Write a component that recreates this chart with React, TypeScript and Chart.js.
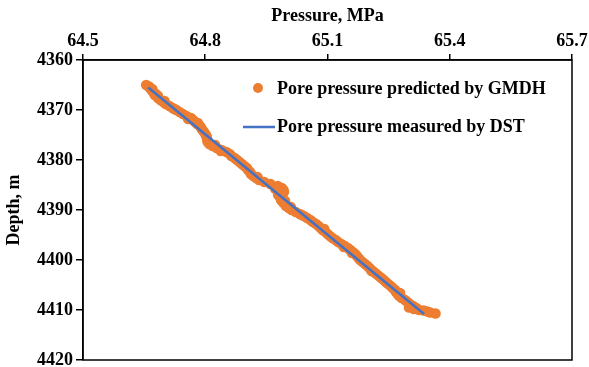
import React, { useEffect, useRef } from "react";
import { Chart, registerables } from "chart.js";

Chart.register(...registerables);

// Pore pressure predicted by the GMDH model (MPa) and matching depths (m)
const gmdhDepth = [
  4365.0, 4365.3, 4365.6, 4366.0, 4366.4, 4366.8, 4367.2, 4367.6, 4368.0, 4368.4,
  4368.8, 4369.2, 4369.6, 4370.0, 4370.4, 4370.8, 4371.2, 4371.6, 4372.0, 4372.4,
  4372.8, 4373.2, 4373.6, 4374.0, 4374.4, 4374.8, 4375.2, 4375.6, 4376.0, 4376.4,
  4376.8, 4377.2, 4377.6, 4378.0, 4378.4, 4378.8, 4379.2, 4379.6, 4380.0, 4380.4,
  4380.8, 4381.2, 4381.6, 4382.0, 4382.4, 4382.8, 4383.2, 4383.6, 4384.0, 4384.4,
  4384.8, 4385.2, 4385.6, 4386.0, 4386.4, 4386.8, 4387.2, 4387.6, 4388.0, 4388.4,
  4388.8, 4389.2, 4389.6, 4390.0, 4390.4, 4390.8, 4391.2, 4391.6, 4392.0, 4392.4,
  4392.8, 4393.2, 4393.6, 4394.0, 4394.4, 4394.8, 4395.2, 4395.6, 4396.0, 4396.4,
  4396.8, 4397.2, 4397.6, 4398.0, 4398.4, 4398.8, 4399.2, 4399.6, 4400.0, 4400.4,
  4400.8, 4401.2, 4401.6, 4402.0, 4402.4, 4402.8, 4403.2, 4403.6, 4404.0, 4404.4,
  4404.8, 4405.2, 4405.6, 4406.0, 4406.4, 4406.8, 4407.2, 4407.6, 4408.0, 4408.4,
  4408.8, 4409.2, 4409.5, 4409.6, 4409.8, 4410.0, 4410.1, 4410.3, 4410.5, 4410.7,
  4365.8, 4367.0, 4368.2, 4369.8, 4371.8, 4372.6, 4377.0, 4378.2, 4383.4, 4385.8,
  4386.2, 4387.0, 4388.2, 4389.4, 4391.0, 4393.8, 4397.4, 4398.6, 4402.2, 4406.6,
];
const gmdhPressure = [
  64.655, 64.662, 64.664, 64.668, 64.672, 64.679, 64.684, 64.684, 64.690, 64.697,
  64.703, 64.712, 64.720, 64.729, 64.737, 64.745, 64.754, 64.765, 64.770, 64.775,
  64.780, 64.787, 64.790, 64.793, 64.797, 64.800, 64.803, 64.804, 64.805, 64.806,
  64.810, 64.818, 64.828, 64.840, 64.852, 64.860, 64.864, 64.872, 64.878, 64.884,
  64.890, 64.896, 64.902, 64.905, 64.910, 64.912, 64.918, 64.925, 64.932, 64.945,
  64.960, 64.978, 64.988, 64.992, 64.993, 64.990, 64.988, 64.985, 64.986, 64.990,
  64.995, 64.998, 65.005, 65.012, 65.022, 65.032, 65.042, 65.050, 65.058, 65.064,
  65.072, 65.078, 65.083, 65.088, 65.095, 65.100, 65.106, 65.112, 65.120, 65.126,
  65.134, 65.142, 65.150, 65.156, 65.162, 65.168, 65.172, 65.176, 65.180, 65.186,
  65.192, 65.198, 65.203, 65.208, 65.214, 65.220, 65.226, 65.232, 65.238, 65.243,
  65.249, 65.255, 65.260, 65.266, 65.268, 65.272, 65.276, 65.282, 65.290, 65.296,
  65.302, 65.310, 65.300, 65.318, 65.312, 65.325, 65.336, 65.345, 65.352, 65.365,
  64.670, 64.676, 64.700, 64.724, 64.758, 64.782, 64.824, 64.838, 64.928, 64.972,
  64.980, 64.979, 64.996, 65.010, 65.037, 65.092, 65.140, 65.160, 65.208, 65.278,
];

// Pore pressure measured by DST: end points of the straight trend
const dstDepth = [4365.5, 4410.8];
const dstPressure = [64.66, 65.337];

// Axis ticks
const pressureTicks = [64.5, 64.8, 65.1, 65.4, 65.7];
const depthTicks = [4360, 4370, 4380, 4390, 4400, 4410, 4420];

const ORANGE = "#ED7D31";
const BLUE = "#4472C4";
const FONT = "'Liberation Serif', 'Times New Roman', serif";
const FONT_SIZE = 18;

const frameAndLegend = {
  id: "frameAndLegend",
  afterDatasetsDraw(chart: any) {
    const { ctx, chartArea } = chart;
    ctx.save();
    ctx.strokeStyle = "#000";
    ctx.lineWidth = 1.5;
    ctx.strokeRect(chartArea.left, chartArea.top, chartArea.right - chartArea.left, chartArea.bottom - chartArea.top);

    const ds = chart.data.datasets;
    ctx.font = `bold ${FONT_SIZE}px ${FONT}`;
    ctx.textBaseline = "middle";
    // scatter entry
    ctx.beginPath();
    ctx.fillStyle = ORANGE;
    ctx.arc(258, 88, 5, 0, Math.PI * 2);
    ctx.fill();
    ctx.fillStyle = "#000";
    ctx.fillText(ds[1].label, 277, 89);
    // line entry
    ctx.beginPath();
    ctx.strokeStyle = BLUE;
    ctx.lineWidth = 2.5;
    ctx.moveTo(243, 127);
    ctx.lineTo(275, 127);
    ctx.stroke();
    ctx.fillText(ds[0].label, 277, 127);
    ctx.restore();
  },
};

export default function App() {
  const ref = useRef<HTMLCanvasElement | null>(null);

  useEffect(() => {
    document.body.style.margin = "0";
    const canvas = ref.current;
    if (!canvas) return;
    const chart = new Chart(canvas, {
      type: "scatter",
      data: {
        datasets: [
          {
            type: "line",
            label: "Pore pressure measured by DST",
            data: dstPressure.map((p, i) => ({ x: p, y: dstDepth[i] })),
            borderColor: BLUE,
            borderWidth: 2.5,
            pointRadius: 0,
            showLine: true,
            fill: false,
            order: 0,
          },
          {
            label: "Pore pressure predicted by GMDH",
            data: gmdhPressure.map((p, i) => ({ x: p, y: gmdhDepth[i] })),
            backgroundColor: ORANGE,
            borderColor: ORANGE,
            borderWidth: 0,
            pointRadius: 5.3,
            order: 1,
          },
        ],
      },
      options: {
        animation: false,
        responsive: false,
        layout: { padding: { left: 0, right: 17, top: 0, bottom: 7 } },
        plugins: { legend: { display: false }, tooltip: { enabled: false } },
        scales: {
          x: {
            type: "linear",
            position: "top",
            min: 64.5,
            max: 65.7,
            afterBuildTicks: (s: any) => {
              s.ticks = pressureTicks.map((v) => ({ value: v }));
            },
            afterFit: (s: any) => {
              s.height = 60;
              s.paddingLeft = 0;
              s.paddingRight = 0;
            },
            ticks: {
              callback: (v: any) => Number(v).toFixed(1),
              color: "#000",
              font: { family: FONT, size: FONT_SIZE, weight: "bold" },
              padding: 2,
              maxRotation: 0,
            },
            grid: { drawOnChartArea: false, drawTicks: true, tickLength: 6, color: "#000", lineWidth: 1.5 },
            border: { color: "#000", width: 1.5 },
            title: {
              display: true,
              text: "Pressure, MPa",
              color: "#000",
              font: { family: FONT, size: FONT_SIZE, weight: "bold" },
              padding: { top: 6, bottom: 0 },
            },
          },
          y: {
            type: "linear",
            reverse: true,
            min: 4360,
            max: 4420,
            afterBuildTicks: (s: any) => {
              s.ticks = depthTicks.map((v) => ({ value: v }));
            },
            afterFit: (s: any) => {
              s.width = 83;
              s.paddingTop = 0;
              s.paddingBottom = 0;
            },
            ticks: {
              callback: (v: any) => String(v),
              color: "#000",
              font: { family: FONT, size: FONT_SIZE, weight: "bold" },
              padding: 3,
            },
            grid: { drawOnChartArea: false, drawTicks: true, tickLength: 7, color: "#000", lineWidth: 1.5 },
            border: { color: "#000", width: 1.5 },
            title: {
              display: true,
              text: "Depth, m",
              color: "#000",
              font: { family: FONT, size: FONT_SIZE, weight: "bold" },
              padding: { top: 4, bottom: 0 },
            },
          },
        },
      },
      plugins: [frameAndLegend],
    } as any);
    return () => chart.destroy();
  }, []);

  return (
    <div style={{ width: 589, height: 367, background: "#fff" }}>
      <canvas ref={ref} width={589} height={367} style={{ display: "block" }} />
    </div>
  );
}
